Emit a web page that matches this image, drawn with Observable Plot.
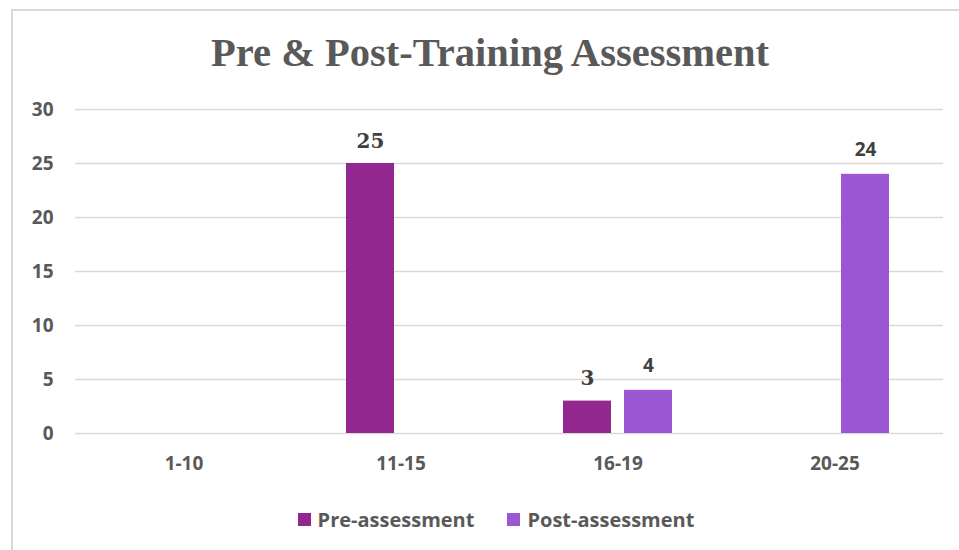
<!DOCTYPE html>
<html>
<head>
<meta charset="utf-8">
<script src="https://cdn.jsdelivr.net/npm/d3@7"></script>
<script src="https://cdn.jsdelivr.net/npm/@observablehq/plot@0.6"></script>
<style>
  html, body { margin: 0; padding: 0; background: #fff; width: 959px; height: 550px; overflow: hidden; }
  #frame { position: absolute; left: 11px; top: 9px; width: 1000px; height: 600px;
           border-top: 2px solid #d9d9d9; border-left: 2px solid #d9d9d9; box-sizing: border-box; }
  #title { position: absolute; left: 0; top: 0; }
  #chart { position: absolute; left: 0; top: 80px; }
  #legend { position: absolute; left: 0; top: 506px; width: 992px; display: flex; justify-content: center;
            gap: 33px; font-family: "Open Sans", sans-serif; font-weight: 700; font-size: 20px; color: #595959; }
  .item { display: flex; align-items: center; gap: 7px; }
  .sw { width: 13px; height: 13px; display: inline-block; }
</style>
</head>
<body>
<div id="frame"></div>
<svg id="title" width="959" height="80"></svg>
<div id="chart"></div>
<div id="legend"></div>
<script>
const titleText = "Pre & Post-Training Assessment";
const categories = ["1-10", "11-15", "16-19", "20-25"];
const seriesNames = ["Pre-assessment", "Post-assessment"];
const preValues = [0, 25, 3, 0];
const postValues = [0, 0, 4, 24];
const yTicks = [0, 5, 10, 15, 20, 25, 30];
const colors = ["#92278F", "#9B57D3"];

const data = categories.flatMap((c, i) => [
  {category: c, series: seriesNames[0], value: preValues[i]},
  {category: c, series: seriesNames[1], value: postValues[i]}
]);

// Title
const tsvg = d3.select("#title");
tsvg.append("text")
  .attr("x", 490).attr("y", 66)
  .attr("text-anchor", "middle")
  .attr("font-family", "Liberation Serif, serif")
  .attr("font-weight", 700)
  .attr("font-size", 39)
  .attr("fill", "#595959")
  .attr("textLength", 558)
  .attr("lengthAdjust", "spacingAndGlyphs")
  .text(titleText);

const chart = Plot.plot({
  width: 959,
  height: 410,
  marginTop: 29,
  marginBottom: 57,
  marginLeft: 75,
  marginRight: 16,
  style: {fontFamily: "Open Sans, sans-serif", fontSize: "19px", fontWeight: 700, color: "#595959", background: "transparent", overflow: "visible"},
  fx: {domain: categories, padding: 0, label: null, axis: "bottom", tickSize: 0, tickPadding: 23},
  x: {domain: seriesNames, paddingInner: 0.213, paddingOuter: 0.885, axis: null},
  y: {domain: [0, 30], ticks: yTicks, tickSize: 0, tickPadding: 22, label: null},
  color: {domain: seriesNames, range: colors},
  marks: [
    Plot.gridY(yTicks, {stroke: "#d9d9d9", strokeOpacity: 1, strokeWidth: 1.5}),
    Plot.barY(data, {fx: "category", x: "series", y: "value", fill: "series"}),
    Plot.text(data.filter(d => d.value > 0 && d.series === seriesNames[0]), {
      fx: "category", x: "series", y: "value", text: d => String(d.value),
      lineAnchor: "bottom", dy: -16, fill: "#404040",
      fontFamily: "DejaVu Serif, serif", fontWeight: 700, fontSize: 20
    }),
    Plot.text(data.filter(d => d.value > 0 && d.series === seriesNames[1]), {
      fx: "category", x: "series", y: "value", text: d => String(d.value),
      lineAnchor: "bottom", dy: -18, fill: "#404040",
      fontFamily: "Open Sans, sans-serif", fontWeight: 700, fontSize: 19
    })
  ]
});
document.getElementById("chart").appendChild(chart);

// Legend
const legend = d3.select("#legend");
seriesNames.forEach((s, i) => {
  const it = legend.append("div").attr("class", "item");
  it.append("span").attr("class", "sw").style("background", colors[i]);
  it.append("span").text(s);
});
</script>
</body>
</html>
